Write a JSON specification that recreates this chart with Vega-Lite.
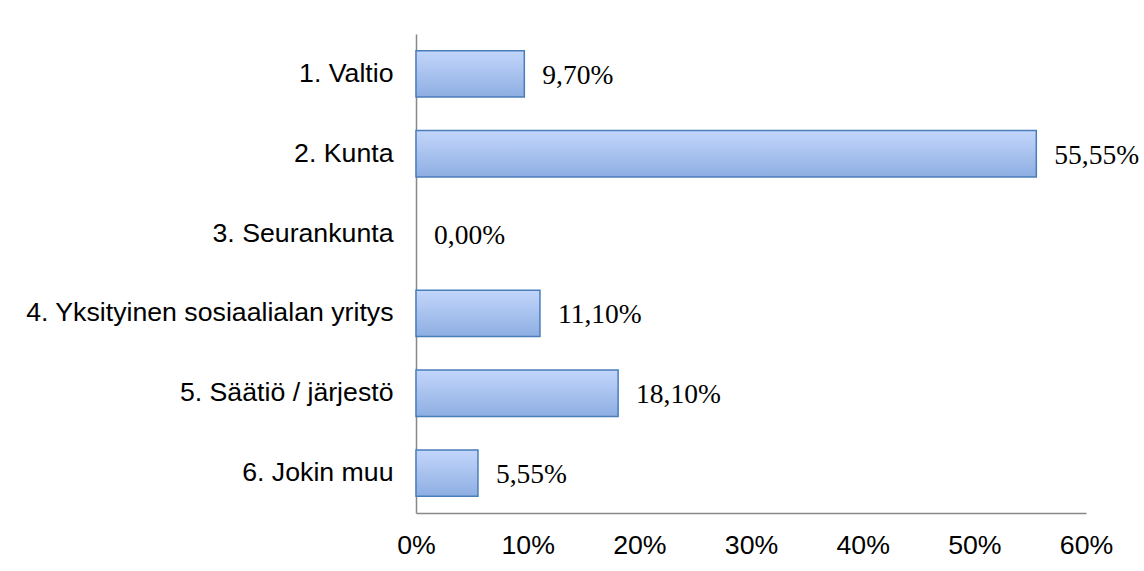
{
  "$schema": "https://vega.github.io/schema/vega-lite/v6.json",
  "autosize": {"type": "none"},
  "padding": {"left": 416, "top": 34, "right": 58, "bottom": 58},
  "width": 670,
  "height": 479,
  "background": "white",
  "config": {"view": {"stroke": null}},
  "data": {
    "values": [
      {"cat": "1. Valtio", "value": 9.70, "label": "9,70%"},
      {"cat": "2. Kunta", "value": 55.55, "label": "55,55%"},
      {"cat": "3. Seurankunta", "value": 0.0, "label": "0,00%"},
      {"cat": "4. Yksityinen sosiaalialan yritys", "value": 11.10, "label": "11,10%"},
      {"cat": "5. Säätiö / järjestö", "value": 18.10, "label": "18,10%"},
      {"cat": "6. Jokin muu", "value": 5.55, "label": "5,55%"}
    ]
  },
  "encoding": {
    "y": {
      "field": "cat", "type": "nominal",
      "sort": ["1. Valtio", "2. Kunta", "3. Seurankunta", "4. Yksityinen sosiaalialan yritys", "5. Säätiö / järjestö", "6. Jokin muu"],
      "scale": {"paddingInner": 0.42, "paddingOuter": 0.21},
      "axis": {
        "title": null, "ticks": false, "grid": false,
        "domainColor": "#888888", "domainWidth": 1.5,
        "labelFont": "Liberation Sans", "labelFontSize": 26.7,
        "labelColor": "#000000", "labelPadding": 23, "labelLimit": 500
      }
    },
    "x": {
      "field": "value", "type": "quantitative",
      "scale": {"domain": [0, 60], "nice": false},
      "axis": {
        "title": null, "ticks": false, "grid": false,
        "values": [0, 10, 20, 30, 40, 50, 60],
        "labelExpr": "datum.value + '%'",
        "domainColor": "#888888", "domainWidth": 1.5,
        "labelFont": "Liberation Sans", "labelFontSize": 26.7,
        "labelColor": "#000000", "labelPadding": 19, "labelFlush": false
      }
    }
  },
  "layer": [
    {
      "transform": [{"filter": "datum.value > 0"}],
      "mark": {
        "type": "bar",
        "stroke": "#4a7ebb",
        "strokeWidth": 1.5,
        "fill": {
          "gradient": "linear", "x1": 0, "y1": 0, "x2": 0, "y2": 1,
          "stops": [
            {"offset": 0, "color": "#c3d6fb"},
            {"offset": 1, "color": "#8daee2"}
          ]
        }
      },
      "encoding": {}
    },
    {
      "mark": {
        "type": "text", "align": "left", "baseline": "middle", "dx": 18, "dy": 2,
        "font": "Liberation Serif", "fontSize": 27.5, "color": "#000000"
      },
      "encoding": {"text": {"field": "label"}}
    }
  ]
}
